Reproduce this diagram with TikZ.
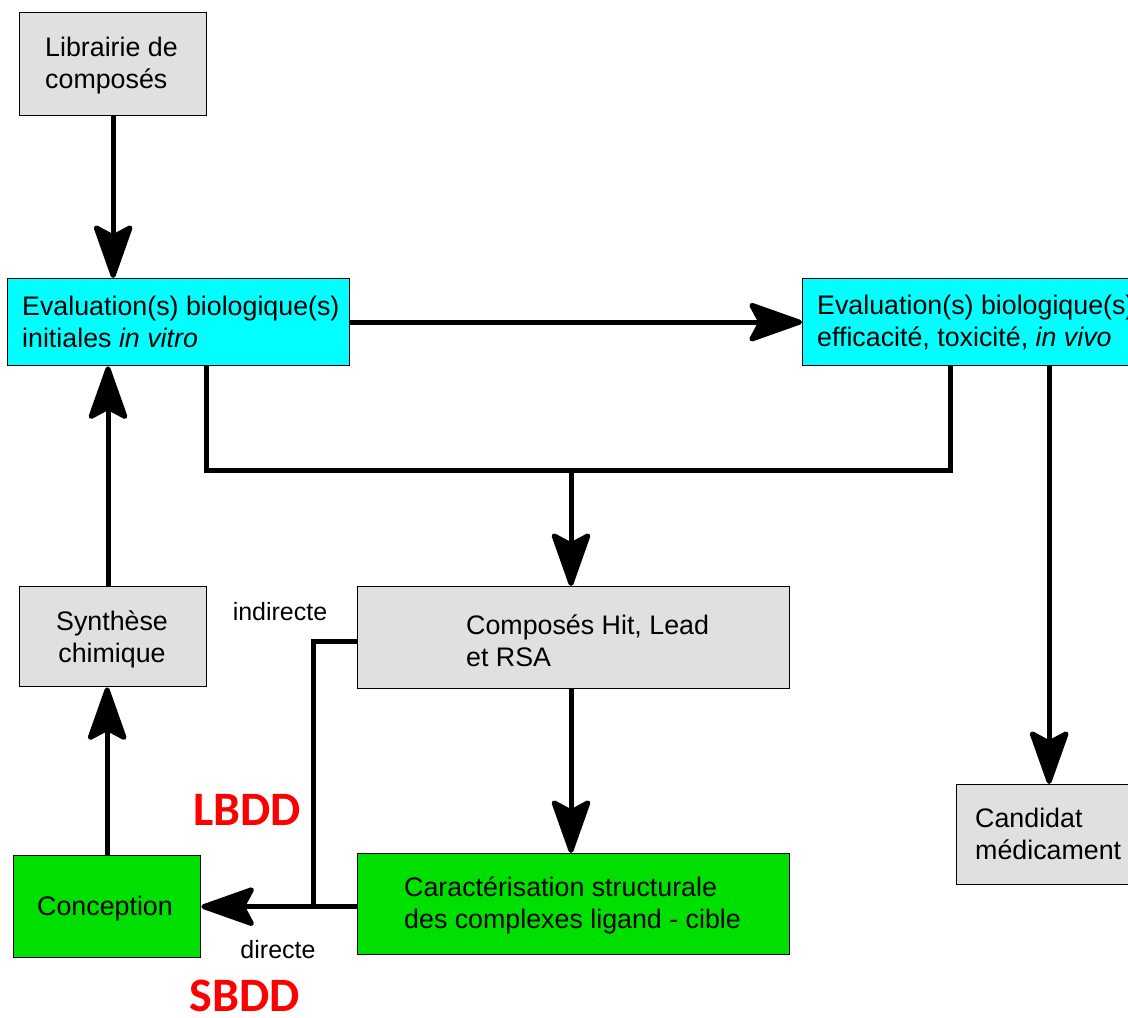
\documentclass[tikz,border=0pt]{standalone}
\usepackage{fontspec}
\setmainfont{Liberation Sans}
\newfontfamily\carlito{Carlito}
\usetikzlibrary{arrows.meta}
\definecolor{boxgray}{HTML}{E0E0E0}
\definecolor{boxcyan}{HTML}{00FFFF}
\definecolor{boxgreen}{HTML}{00E000}
\begin{document}
\begin{tikzpicture}[x=1pt,y=-1pt,
  bx/.style={draw=black, line width=1.3pt, inner sep=0pt, anchor=north west},
  txt/.style={inner sep=0pt, align=left, font=\fontsize{26.8}{32}\selectfont},
  lbl/.style={inner sep=0pt, font=\fontsize{25}{29}\selectfont},
  red/.style={inner sep=0pt, text=red, font=\carlito\bfseries\fontsize{48}{54}\selectfont},
  ln/.style={line width=5pt, line join=miter},
  arr/.style={line width=5pt, -{Stealth[length=60pt,width=42pt,inset=11pt,round]}}
]
\useasboundingbox (0,0) rectangle (1128,1018);

% boxes
\node[bx, fill=boxgray, minimum width=187pt, minimum height=103pt] (lib) at (19,12) {};
\node[bx, fill=boxcyan, minimum width=342pt, minimum height=87pt] (ev1) at (7,278) {};
\node[bx, fill=boxcyan, minimum width=340pt, minimum height=87pt] (ev2) at (802,278) {};
\node[bx, fill=boxgray, minimum width=187pt, minimum height=100pt] (syn) at (19,586) {};
\node[bx, fill=boxgray, minimum width=432pt, minimum height=102pt] (comp) at (357,586) {};
\node[bx, fill=boxgreen, minimum width=187pt, minimum height=102pt] (conc) at (13,855) {};
\node[bx, fill=boxgreen, minimum width=432pt, minimum height=101pt] (car) at (357,853) {};
\node[bx, fill=boxgray, minimum width=185pt, minimum height=100pt] (cand) at (956,784) {};

% texts
\node[txt, anchor=west] (libT) at (45,66) {Librairie de\\compos\'es};
\node[txt, anchor=west] (ev1T) at (22,322) {Evaluation(s) biologique(s)\\initiales \textit{in vitro}};
\node[txt, anchor=west] (ev2T) at (817,322) {Evaluation(s) biologique(s)\\efficacit\'e, toxicit\'e, \textit{in vivo}};
\node[txt, align=center] (synT) at (112,639) {Synth\`ese\\chimique};
\node[txt, anchor=west] (compT) at (466,641) {Compos\'es Hit, Lead\\et RSA};
\node[txt] (concT) at (105,909) {Conception};
\node[txt, anchor=west] (carT) at (404,905) {Caract\'erisation structurale\\des complexes ligand - cible};
\node[txt, anchor=west] (candT) at (975,834) {Candidat\\m\'edicament};

% labels
\node[lbl] (ind) at (280,612) {indirecte};
\node[lbl] (dir) at (278,950) {directe};
\node[red, anchor=base] (lbdd) at (247,825) {LBDD};
\node[red, anchor=base] (sbdd) at (245,1011) {SBDD};

% junctions
\coordinate (j1) at (206,470);
\coordinate (j2) at (950,470);
\coordinate (jm) at (571,470);
\coordinate (k1) at (313,641);
\coordinate (k2) at (313,906);
\coordinate (sx) at (108,0);

% connectors
\draw[arr] (lib.south) -- (lib.south |- ev1.north);
\draw[arr] (ev1.east) -- (ev2.west);
\draw[ln] (ev1.south -| j1) -- (j1) -- (j2) -- (ev2.south -| j2);
\draw[arr] (jm) -- (comp.north -| jm);
\draw[arr] (ev2.south -| cand.north) -- (cand.north);
\draw[arr] (syn.north -| sx) -- (ev1.south -| sx);
\draw[arr] (conc.north) -- (conc.north |- syn.south);
\draw[arr] (comp.south -| jm) -- (car.north -| jm);
\draw[arr] (car.west |- conc.east) -- (conc.east);
\draw[ln] (comp.west |- k1) -- (k1) -- (k2);
\end{tikzpicture}
\end{document}
